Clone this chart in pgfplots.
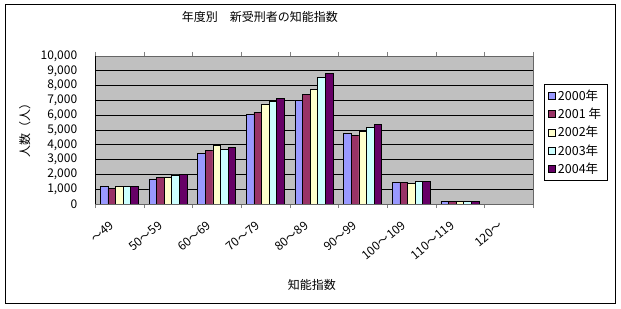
\documentclass[border=0pt]{standalone}
\usepackage{fontspec}
\setmainfont{Noto Sans CJK JP}
\usepackage{pgfplots}
\pgfplotsset{compat=1.18}
\definecolor{c0}{HTML}{9999FF}
\definecolor{c1}{HTML}{993366}
\definecolor{c2}{HTML}{FFFFCC}
\definecolor{c3}{HTML}{CCFFFF}
\definecolor{c4}{HTML}{660066}
\definecolor{bgray}{HTML}{C0C0C0}
\begin{document}
\begin{tikzpicture}[font=\fontsize{12bp}{14bp}\selectfont]
\useasboundingbox (0,0) rectangle (621bp,309bp);
\draw[black, line width=1bp] (5bp,5bp) rectangle (615bp,304bp);
\begin{axis}[
  at={(95bp,105bp)}, anchor=south west,
  width=438bp, height=148bp, scale only axis,
  ybar=0pt, bar width=7.6bp,
  ymin=0, ymax=10000, ytick={0,1000,...,10000},
  scaled y ticks=false,
  xmin=-0.5, xmax=8.5,
  xtick={0,...,8},
  xticklabels={～49,50～59,60～69,70～79,80～89,90～99,100～109,110～119,120～},
  minor xtick={-0.5,0.5,...,8.5},
  major x tick style={draw=none},
  minor tick length=4bp,
  tick align=outside,
  ytick style={draw=none},
  ymajorgrids,
  major grid style={black, line width=0.8bp},
  axis background/.style={fill=bgray},
  axis line style={draw=gray!80!black, line width=0.8bp},
  /pgf/number format/.cd, 1000 sep={,}, assume math mode=true,
  /pgfplots/.cd,
  yticklabel style={xshift=-10bp, font=\fontsize{12bp}{14bp}\selectfont},
  xticklabel style={xshift=-10bp, yshift=-7bp, rotate=40, anchor=north east, font=\fontsize{12bp}{14bp}\selectfont},
  every axis title shift=0pt,
  title={年度別　新受刑者の知能指数},
  title style={at={(axis description cs:0.3767,1.264)}, anchor=center, yshift=0pt},
  ylabel={人数（人）},
  ylabel style={at={(axis description cs:-0.16,0.52)}, anchor=center},
  xlabel={知能指数},
  xlabel style={at={(axis description cs:0.495,-0.547)}, anchor=center},
  legend style={at={(axis description cs:1.0251,0.8108)}, anchor=north west,
    draw=black, fill=white, line width=0.8bp, row sep=2.2bp,
    inner xsep=4bp, inner ysep=3.5bp,
    font=\fontsize{12.5bp}{14bp}\selectfont},
  legend cell align=left,
  legend image code/.code={\draw[#1, line width=0.6bp] (0bp,-3.5bp) rectangle (7bp,3.5bp);},
  every axis plot/.append style={draw=black, line width=0.6bp},
]
\addplot[fill=c0] coordinates {(0,1200) (1,1700) (2,3400) (3,6050) (4,7000) (5,4780) (6,1460) (7,160)};
\addplot[fill=c1] coordinates {(0,1060) (1,1820) (2,3600) (3,6200) (4,7420) (5,4640) (6,1460) (7,160)};
\addplot[fill=c2] coordinates {(0,1200) (1,1820) (2,3950) (3,6750) (4,7750) (5,4930) (6,1400) (7,160)};
\addplot[fill=c3] coordinates {(0,1200) (1,1960) (2,3700) (3,6950) (4,8560) (5,5180) (6,1530) (7,160)};
\addplot[fill=c4] coordinates {(0,1200) (1,2000) (2,3850) (3,7140) (4,8830) (5,5380) (6,1530) (7,160)};
\legend{2000年,2001 年,2002年,2003年,2004年}
\draw[black, line width=0.8bp] (rel axis cs:0,1) -- (rel axis cs:0,0) -- (rel axis cs:1,0);
\end{axis}
\end{tikzpicture}
\end{document}
